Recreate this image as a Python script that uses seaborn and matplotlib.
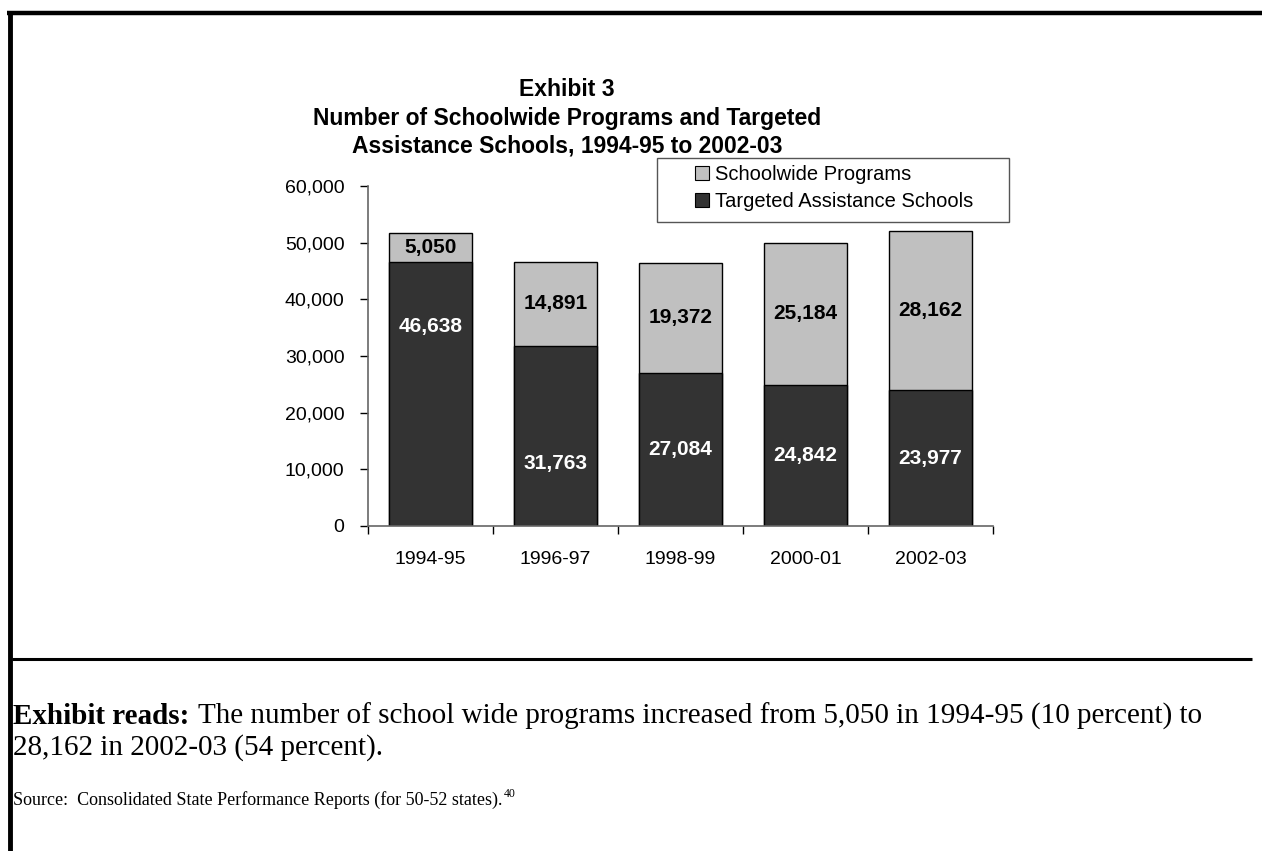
import numpy as np
import pandas as pd
import seaborn as sns
import matplotlib.pyplot as plt
from matplotlib.lines import Line2D
from matplotlib.patches import Patch, Rectangle

years = ["1994-95", "1996-97", "1998-99", "2000-01", "2002-03"]
schoolwide = [5050, 14891, 19372, 25184, 28162]
targeted = [46638, 31763, 27084, 24842, 23977]
# Excel nudged two of the dark labels away from the middle of the segment
targeted_label_shift = [11900, -4900, 0, 0, 0]

LIGHT = "#c0c0c0"
DARK = "#333333"
W, H = 1262, 851

df = pd.DataFrame({"year": years, "schoolwide": schoolwide, "targeted": targeted})
df["total"] = df["schoolwide"] + df["targeted"]

sns.set_style("white")
plt.rcParams["font.family"] = ["Liberation Sans", "DejaVu Sans"]
for k in ["text.color", "axes.labelcolor", "xtick.color", "ytick.color"]:
    plt.rcParams[k] = "black"

fig = plt.figure(figsize=(W / 100, H / 100), dpi=100)
ax = fig.add_axes([368 / W, 1 - 526 / H, 625 / W, 340 / H])

# stacked bars: totals in light grey, targeted drawn over them in dark grey
sns.barplot(data=df, x="year", y="total", color=LIGHT, width=0.67,
            edgecolor="black", linewidth=1, saturation=1, ax=ax)
sns.barplot(data=df, x="year", y="targeted", color=DARK, width=0.67,
            edgecolor="black", linewidth=1, saturation=1, ax=ax)

for i, row in df.iterrows():
    ax.text(i, row["targeted"] + row["schoolwide"] / 2, f"{row['schoolwide']:,}",
            ha="center", va="center", fontsize=15, fontweight="bold", color="black")
    ax.text(i, row["targeted"] / 2 + targeted_label_shift[i], f"{row['targeted']:,}",
            ha="center", va="center", fontsize=15, fontweight="bold", color="white")

ax.set_ylim(0, 60000)
ax.set_xlim(-0.5, len(years) - 0.5)
ax.set_yticks(np.arange(0, 60001, 10000))
ax.yaxis.set_major_formatter(plt.FuncFormatter(lambda v, p: f"{int(v):,}"))
ax.set_xlabel("")
ax.set_ylabel("")

# category ticks sit on the boundaries, labels in the middle
ax.set_xticks(np.arange(-0.5, len(years)))
ax.set_xticklabels([])
ax.set_xticks(np.arange(len(years)), minor=True)
ax.set_xticklabels(years, minor=True, fontsize=14)
ax.tick_params(axis="x", which="major", direction="out", length=6, width=1, color="black", bottom=True)
ax.tick_params(axis="x", which="minor", length=0, pad=18)
ax.tick_params(axis="y", direction="out", length=6, width=1, color="black", left=True,
               labelsize=14, pad=11)

for side in ["top", "right"]:
    ax.spines[side].set_visible(False)
for side in ["left", "bottom"]:
    ax.spines[side].set_color("#666666")
    ax.spines[side].set_linewidth(1.2)

handles = [Patch(facecolor=LIGHT, edgecolor="black", linewidth=0.8, label="Schoolwide Programs"),
           Patch(facecolor=DARK, edgecolor="black", linewidth=0.8, label="Targeted Assistance Schools")]
fig.legend(handles=handles, loc="upper left", bbox_to_anchor=(695 / W, 1 - 165 / H),
           bbox_transform=fig.transFigure, fontsize=14.5, frameon=False,
           handlelength=0.69, handleheight=0.69, handletextpad=0.3, borderpad=0,
           labelspacing=0.38, borderaxespad=0)
# Excel's legend box is much wider than its entries
fig.add_artist(Rectangle((657 / W, 1 - 222 / H), 352 / W, 64 / H, transform=fig.transFigure,
                         facecolor="none", edgecolor="#555555", lw=1))

fig.text(567 / W, 1 - 118 / H, "Exhibit 3\nNumber of Schoolwide Programs and Targeted\nAssistance Schools, 1994-95 to 2002-03",
         ha="center", va="center", fontsize=16.5, fontweight="bold", linespacing=1.3)

# page frame and separator
fig.add_artist(Line2D([7 / W, 1], [1 - 13 / H] * 2, color="black", lw=3.2, solid_capstyle="butt"))
fig.add_artist(Line2D([9.5 / W] * 2, [0, 1 - 11 / H], color="black", lw=3.5, solid_capstyle="butt"))
fig.add_artist(Line2D([12 / W, 1252 / W], [1 - 659 / H] * 2, color="black", lw=2.2, solid_capstyle="butt"))

# caption text underneath
serif = ["Liberation Serif", "DejaVu Serif"]
x0 = 13 / W
t1 = fig.text(x0, 1 - 716 / H, "Exhibit reads:", family=serif, fontsize=21,
              fontweight="bold", va="center", ha="left")
fig.canvas.draw()
r = fig.canvas.get_renderer()
bb = t1.get_window_extent(r)
fig.text((bb.x1 + 9) / W, 1 - 716 / H,
         "The number of school wide programs increased from 5,050 in 1994-95 (10 percent) to",
         family=serif, fontsize=21, va="center", ha="left")
fig.text(x0, 1 - 748 / H, "28,162 in 2002-03 (54 percent).", family=serif, fontsize=21,
         va="center", ha="left")
t3 = fig.text(x0, 1 - 800 / H, "Source:  Consolidated State Performance Reports (for 50-52 states).",
              family=serif, fontsize=13, va="center", ha="left")
fig.canvas.draw()
bb3 = t3.get_window_extent(r)
fig.text((bb3.x1 + 1) / W, 1 - 794 / H, "40", family=serif, fontsize=8.5,
         va="center", ha="left")

fig.savefig("out.png", dpi=100)
